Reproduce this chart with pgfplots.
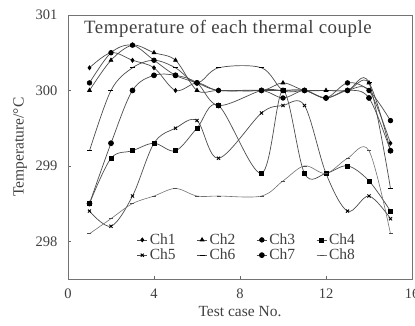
\documentclass[border=0pt]{standalone}
\usepackage{pgfplots}
\pgfplotsset{compat=1.18}
\usepackage{fontspec}
\setmainfont{Liberation Serif}
\usetikzlibrary{calc}
\begin{document}
\begin{tikzpicture}
\begin{axis}[name=ax,
  scale only axis, width=344pt, height=264pt,
  xmin=0, xmax=16, ymin=297.5, ymax=301,
  xtick={0,4,...,16}, ytick={298,299,300,301},
  tick align=inside, xtick pos=bottom, ytick pos=left,
  major tick length=3pt,
  axis line style={draw=black!55, line width=0.8pt},
  tick style={black!60},
  font=\fontsize{13}{15}\selectfont,
  ticklabel style={font=\fontsize{14.5}{16}\selectfont, text=black!75},
  xticklabel style={yshift=-6pt},
  yticklabel style={xshift=-7pt},
  /pgf/number format/assume math mode=true,
  yticklabel style={/pgf/number format/fixed, /pgf/number format/1000 sep={}},
  xlabel={Test case No.}, ylabel={Temperature/\textdegree C},
  xlabel style={font=\fontsize{15.5}{17}\selectfont, text=black!75, yshift=-1pt},
  ylabel style={font=\fontsize{15.5}{17}\selectfont, text=black!75, yshift=2pt},
  title={\addfontfeatures{LetterSpace=3}Temperature of each thermal couple},
  title style={at={(axis description cs:0.465,0.972)}, anchor=north, font=\fontsize{18.8}{20}\selectfont, text=black!75},
  legend style={at={(axis description cs:0.52,0.055)}, anchor=south, draw=none, fill=none,
     font=\fontsize{15.5}{17}\selectfont, text=black!75, row sep=-1pt, inner sep=1pt,
     /tikz/every even column/.append style={column sep=19pt}},
  legend columns=4,
  legend image code/.code={\draw[#1] plot coordinates {(0cm,0cm) (0.18cm,0cm) (0.36cm,0cm)};},
  legend image post style={mark repeat=2, mark phase=2},
]
% x: 1 2 3 4 5 6 7 9 10 11 12 13 14 15
\addplot[smooth, tension=0.55, line width=0.7pt, draw=black!70, mark=diamond*, mark size=2pt, mark options={fill=black, draw=black, solid}] coordinates {(1,300.3)(2,300.5)(3,300.4)(4,300.3)(5,300.0)(6,300.1)(7,300.0)(9,300.0)(10,300.0)(11,300.0)(12,299.9)(13,300.0)(14,300.0)(15,299.3)};
\addlegendentry{Ch1}
\addplot[smooth, tension=0.55, line width=0.7pt, draw=black!70, mark=triangle*, mark size=2.2pt, mark options={fill=black, draw=black, solid}] coordinates {(1,300.0)(2,300.4)(3,300.6)(4,300.5)(5,300.4)(6,300.0)(7,300.0)(9,300.0)(10,300.1)(11,300.0)(12,300.0)(13,300.0)(14,300.1)(15,299.2)};
\addlegendentry{Ch2}
\addplot[smooth, tension=0.55, line width=0.7pt, draw=black!70, mark=*, mark size=2.3pt, mark options={fill=black, draw=black, solid}] coordinates {(1,300.1)(2,300.5)(3,300.6)(4,300.4)(5,300.2)(6,300.1)(7,300.0)(9,300.0)(10,299.9)(11,300.0)(12,299.9)(13,300.1)(14,300.0)(15,299.6)};
\addlegendentry{Ch3}
\addplot[smooth, tension=0.55, line width=0.7pt, draw=black!70, mark=square*, mark size=2pt, mark options={fill=black, draw=black, solid}] coordinates {(1,298.5)(2,299.1)(3,299.2)(4,299.3)(5,299.2)(6,299.5)(7,299.8)(9,298.9)(10,300.0)(11,298.9)(12,298.9)(13,299.0)(14,298.8)(15,298.4)};
\addlegendentry{Ch4}
\addplot[smooth, tension=0.55, line width=0.7pt, draw=black!70, mark=x, mark size=2.2pt, mark options={draw=black, line width=0.9pt, solid}] coordinates {(1,298.4)(2,298.2)(3,298.6)(4,299.3)(5,299.5)(6,299.6)(7,299.1)(9,299.7)(10,299.8)(11,299.8)(12,298.9)(13,298.4)(14,298.6)(15,298.3)};
\addlegendentry{Ch5}
\addplot[smooth, tension=0.55, line width=0.7pt, draw=black!70, mark=-, mark size=2.5pt, mark options={draw=black, line width=0.9pt, solid}] coordinates {(1,299.2)(2,300.0)(3,300.3)(4,300.4)(5,300.3)(6,300.1)(7,300.3)(9,300.3)(10,300.0)(11,300.0)(12,300.0)(13,300.0)(14,300.1)(15,298.7)};
\addlegendentry{Ch6}
\addplot[smooth, tension=0.55, line width=0.7pt, draw=black!70, mark=*, mark size=2.5pt, mark options={fill=black, draw=black, solid}] coordinates {(1,298.5)(2,299.3)(3,300.0)(4,300.2)(5,300.2)(6,300.1)(7,299.8)(9,300.0)(10,300.0)(11,300.0)(12,299.9)(13,300.0)(14,299.9)(15,299.2)};
\addlegendentry{Ch7}
\addplot[smooth, tension=0.55, line width=0.6pt, draw=black!55, mark=-, mark size=2pt, mark options={draw=black!70, solid}] coordinates {(1,298.1)(2,298.3)(3,298.5)(4,298.6)(5,298.7)(6,298.6)(7,298.6)(9,298.6)(10,298.8)(11,299.0)(12,298.9)(13,299.1)(14,299.2)(15,298.1)};
\addlegendentry{Ch8}
\end{axis}
\pgfresetboundingbox
\useasboundingbox ($(ax.south west)+(-68pt,-47pt)$) rectangle ($(ax.north east)+(3pt,15pt)$);
\end{tikzpicture}
\end{document}
